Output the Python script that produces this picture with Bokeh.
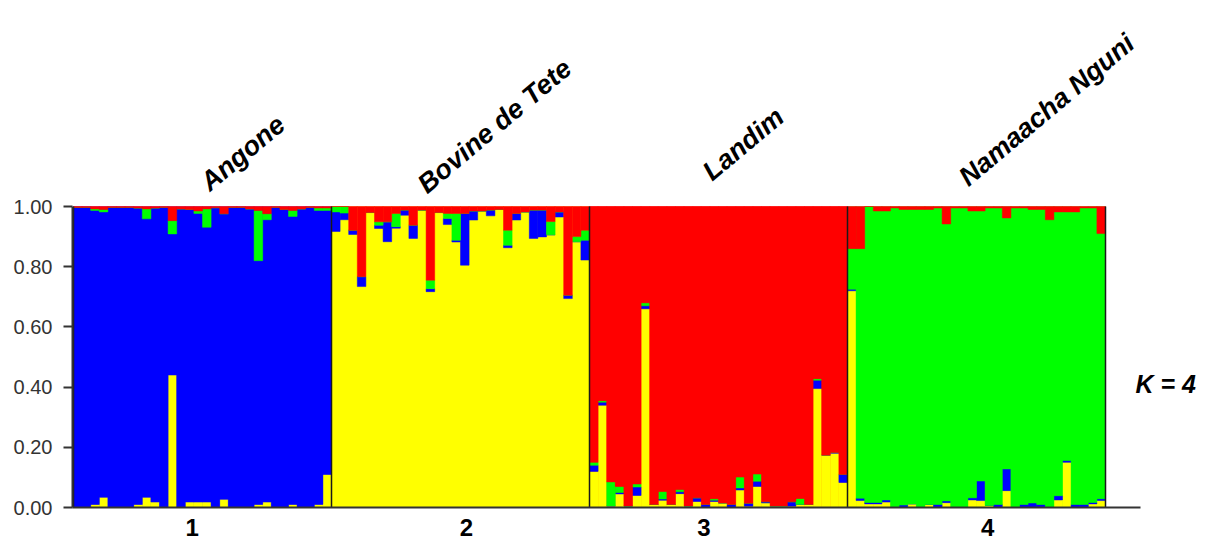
import numpy as np
from bokeh.plotting import figure
from bokeh.models import Range1d, FixedTicker, PrintfTickFormatter, ColumnDataSource
from bokeh.core.properties import value
from bokeh.embed import file_html
from bokeh.resources import INLINE

# ---------------- data ----------------
populations = ["Angone", "Bovine de Tete", "Landim", "Namaacha Nguni"]
pop_numbers = ["1", "2", "3", "4"]
clusters = ["yellow", "blue", "green", "red"]          # stacking order, bottom -> top
dominant = ["blue", "yellow", "red", "green"]          # main cluster of each population
y_ticks = [0.0, 0.2, 0.4, 0.6, 0.8, 1.0]
k_label = "K = 4"

# membership (Q) of the minor clusters per individual; the main cluster is the remainder
angone_yellow = [0, 0, 0.01, 0.034, 0, 0, 0, 0.01, 0.034, 0.018, 0, 0.44, 0, 0.018, 0.018,
                 0.018, 0, 0.027, 0, 0, 0, 0.01, 0.018, 0, 0, 0.01, 0, 0, 0.01, 0.11]
angone_green = [0, 0, 0.005, 0.008, 0, 0, 0, 0, 0.033, 0, 0, 0.044, 0, 0, 0.008,
                0.061, 0, 0, 0, 0, 0, 0.167, 0.02, 0, 0, 0.02, 0, 0, 0.008, 0.008]
angone_red = [0.003, 0.003, 0.008, 0.01, 0.003, 0.003, 0.003, 0.005, 0.008, 0.005, 0.003, 0.047,
              0.008, 0.01, 0.015, 0.008, 0.004, 0.024, 0.003, 0.003, 0.008, 0.013, 0.024, 0.003,
              0.01, 0.013, 0.008, 0.003, 0.005, 0.005]

bovine_blue = [0.065, 0.022, 0.014, 0.033, 0, 0.011, 0.066, 0.005, 0.017, 0.044, 0, 0.01, 0, 0.02,
               0.006, 0.172, 0.03, 0, 0.019, 0, 0.008, 0.022, 0, 0.094, 0.089, 0, 0.017, 0.011, 0, 0.066]
bovine_green = [0.018, 0.022, 0, 0, 0, 0.011, 0, 0.044, 0, 0, 0, 0.028, 0, 0.017, 0.089,
                0, 0, 0, 0, 0, 0.05, 0, 0, 0, 0, 0.044, 0, 0, 0.017, 0.033]
bovine_red = [0, 0, 0.079, 0.233, 0.02, 0.051, 0.051, 0.023, 0.012, 0.062, 0.012, 0.245, 0.02, 0.023,
              0.023, 0.023, 0.015, 0.015, 0.012, 0.01, 0.079, 0.023, 0.018, 0.012, 0.012, 0.05,
              0.018, 0.295, 0.1, 0.079]

landim_yellow = [0.12, 0.34, 0.005, 0.045, 0.005, 0.04, 0.66, 0.01, 0.024, 0.01, 0.046, 0.005, 0.02,
                 0, 0.02, 0.015, 0, 0.058, 0.004, 0.07, 0.015, 0.005, 0.005, 0.004, 0.01, 0.01,
                 0.395, 0.174, 0.18, 0.083]
landim_blue = [0.02, 0.01, 0, 0.005, 0, 0.028, 0.01, 0, 0.004, 0, 0.006, 0, 0.012, 0.01, 0.004,
               0, 0.01, 0.007, 0.01, 0.017, 0.004, 0, 0, 0.015, 0, 0, 0.028, 0, 0.003, 0.027]
landim_green = [0.01, 0.005, 0.08, 0.02, 0, 0.01, 0.01, 0, 0.025, 0, 0.008, 0, 0, 0, 0.005,
                0, 0, 0.036, 0, 0.024, 0, 0, 0, 0, 0.02, 0, 0.005, 0, 0, 0]

nguni_yellow = [0.72, 0.023, 0.012, 0.012, 0.018, 0, 0, 0.012, 0, 0.01, 0, 0.016, 0, 0, 0.025,
                0.023, 0.007, 0, 0.056, 0, 0, 0, 0, 0, 0.025, 0.15, 0, 0, 0.012, 0.023]
nguni_blue = [0.005, 0.008, 0.005, 0.005, 0.007, 0, 0.008, 0, 0, 0, 0.01, 0.006, 0, 0, 0.007,
              0.065, 0, 0.01, 0.072, 0, 0.01, 0.015, 0.01, 0, 0.014, 0.006, 0.01, 0.01, 0.005, 0.006]
nguni_red = [0.14, 0.14, 0, 0.015, 0.015, 0.005, 0.01, 0.01, 0.01, 0.01, 0.005, 0.058, 0.005, 0.005,
             0.015, 0.015, 0.005, 0.005, 0.038, 0.005, 0.005, 0.01, 0.01, 0.044, 0.018, 0.018,
             0.018, 0.005, 0.005, 0.09]

minor = [
    {"yellow": angone_yellow, "green": angone_green, "red": angone_red},
    {"blue": bovine_blue, "green": bovine_green, "red": bovine_red},
    {"yellow": landim_yellow, "blue": landim_blue, "green": landim_green},
    {"yellow": nguni_yellow, "blue": nguni_blue, "red": nguni_red},
]

# ---------------- build table ----------------
n_per = [len(m[list(m)[0]]) for m in minor]
cols = {c: [] for c in clusters}
for g, m in enumerate(minor):
    n = n_per[g]
    rest = np.ones(n)
    for c in clusters:
        if c in m:
            rest = rest - np.array(m[c], dtype=float)
    for c in clusters:
        if c == dominant[g]:
            cols[c].extend(rest.tolist())
        elif c in m:
            cols[c].extend(m[c])
        else:
            cols[c].extend([0.0] * n)
n_total = sum(n_per)
cols["x"] = (np.arange(n_total) + 0.5).tolist()
src = ColumnDataSource(cols)

starts = np.concatenate([[0], np.cumsum(n_per)])
centers = (starts[:-1] + starts[1:]) / 2.0

# ---------------- layout / style ----------------
W, H = 1205, 542
LEFT, BOTTOM = 72, 35
bar_px = 8.6
first_bar_px = 73
zero_px, one_px = 507, 206
unit_px = zero_px - one_px
x0 = (LEFT - first_bar_px) / bar_px
x1 = (W - first_bar_px) / bar_px
y1 = (zero_px) / unit_px

palette = {"yellow": "#FFFF00", "blue": "#0000FF", "green": "#00FF00", "red": "#FF0000"}
axis_col = "#333333"
FONT = "Liberation Sans"

p = figure(width=W, height=H, x_range=Range1d(x0, x1), y_range=Range1d(0, y1),
           output_backend="svg", toolbar_location=None,
           min_border_left=LEFT, min_border_right=0, min_border_top=0, min_border_bottom=BOTTOM)
p.grid.visible = False
p.outline_line_color = None
p.background_fill_color = "white"

# underlay in each population's main colour (hides seams between adjacent bars)
p.quad(left=starts[:-1].tolist(), right=starts[1:].tolist(), bottom=0, top=1,
       color=[palette[d] for d in dominant], line_width=0)

colors = [palette[c] for c in clusters]
p.vbar_stack(clusters, x="x", width=1.0, color=colors, line_width=0.5, source=src)

# population separators
p.segment(x0=starts.tolist(), y0=[0] * len(starts), x1=starts.tolist(), y1=[1] * len(starts),
          line_color="#1a1a1a", line_width=1.5)

# y axis
ya = p.yaxis[0]
ya.ticker = FixedTicker(ticks=y_ticks)
ya.formatter = PrintfTickFormatter(format="%.2f")
ya.bounds = (0, 1)
ya.axis_line_color = axis_col
ya.axis_line_width = 2
ya.major_tick_line_color = axis_col
ya.major_tick_line_width = 2
ya.major_tick_out = 9
ya.major_tick_in = 0
ya.minor_tick_line_color = None
ya.major_label_standoff = 11
ya.major_label_text_font = FONT
ya.major_label_text_font_size = "20px"
ya.major_label_text_color = axis_col

# x axis: population numbers
label_dx = [-1.2, 0.7, -1.7, 1.3]
xt = [round(float(c + d), 1) for c, d in zip(centers, label_dx)]
xa = p.xaxis[0]
xa.ticker = FixedTicker(ticks=xt)
xa.major_label_overrides = {t: s for t, s in zip(xt, pop_numbers)}
xa.bounds = (x0, (1140 - first_bar_px) / bar_px)
xa.axis_line_color = axis_col
xa.axis_line_width = 2
xa.major_tick_out = 0
xa.major_tick_in = 0
xa.minor_tick_line_color = None
xa.major_label_standoff = 11
xa.major_label_text_font = FONT
xa.major_label_text_font_style = "bold"
xa.major_label_text_font_size = "24px"
xa.major_label_text_color = "black"

# rotated population names
name_dx = [0.2, -4.55, -1.4, -1.6]
name_y = [1.07, 1.063, 1.105, 1.087]
p.text(x=[float(c + d) for c, d in zip(centers, name_dx)], y=name_y, text=populations,
       angle=40, angle_units="deg", text_font=value(FONT), text_font_style="bold italic",
       text_font_size="27px", text_align="left", text_baseline="alphabetic", text_color="black")

# K label
p.text(x=[(1135 - first_bar_px) / bar_px], y=[0.41], text=[k_label],
       text_font=value(FONT), text_font_style="bold italic", text_font_size="25px",
       text_align="left", text_baseline="middle", text_color="black")

open("out.html", "w").write(file_html(p, INLINE))
